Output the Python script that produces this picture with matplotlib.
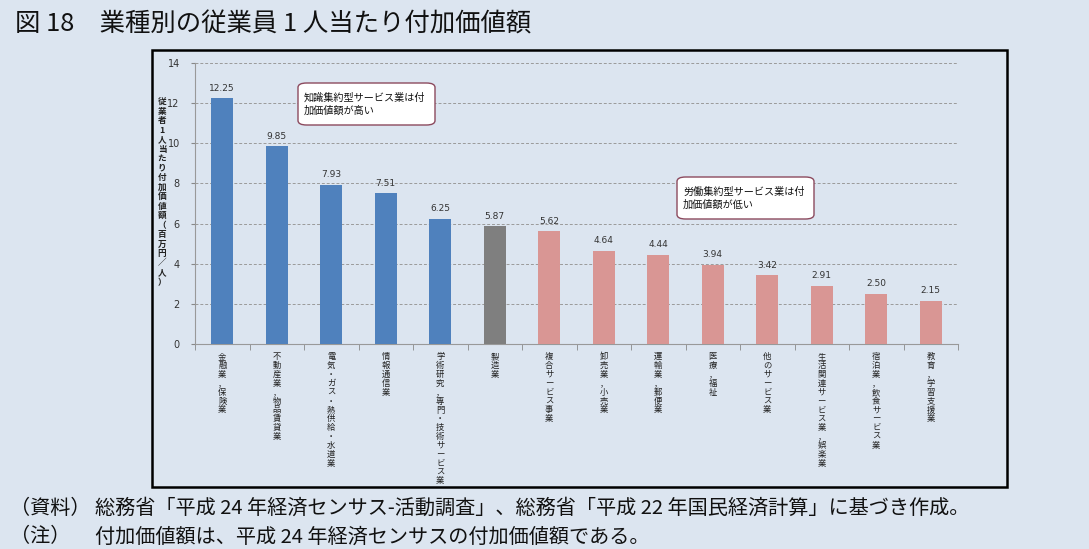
import matplotlib
matplotlib.use("Agg")
import matplotlib.pyplot as plt
from matplotlib.patches import Rectangle, FancyBboxPatch
import numpy as np

plt.rcParams['font.family'] = ['Noto Sans CJK JP', 'DejaVu Sans']

# data
industries = ["金融業，保険業", "不動産業，物品賃貸業", "電気・ガス・熱供給・水道業",
              "情報通信業", "学術研究，専門・技術サービス業", "製造業",
              "複合サービス事業", "卸売業，小売業", "運輸業，郵便業", "医療，福祉",
              "他のサービス業", "生活関連サービス業，娯楽業", "宿泊業，飲食サービス業",
              "教育，学習支援業"]
values = [12.25, 9.85, 7.93, 7.51, 6.25, 5.87, 5.62, 4.64, 4.44, 3.94, 3.42, 2.91, 2.50, 2.15]
groups = ["knowledge"] * 5 + ["manufacturing"] + ["labour"] * 8
yticks = [0, 2, 4, 6, 8, 10, 12, 14]

title = "図 18　業種別の従業員 1 人当たり付加価値額"
ylabel = "従業者1人当たり付加価値額（百万円／人）"
note_high = "知識集約型サービス業は付\n加価値額が高い"
note_low = "労働集約型サービス業は付\n加価値額が低い"
source_head = ["（資料）", "（注）"]
source_body = ["総務省「平成 24 年経済センサス-活動調査」、総務省「平成 22 年国民経済計算」に基づき作成。",
               "付加価値額は、平成 24 年経済センサスの付加価値額である。"]

colors = {"knowledge": "#4f81bd", "manufacturing": "#7f7f7f", "labour": "#d99694"}
bg = "#dce5f0"

fig = plt.figure(figsize=(10.89, 5.49), dpi=100, facecolor=bg)

# black frame round the chart
fig.patches.append(Rectangle((152 / 1089, 1 - 487 / 549), 855 / 1089, 437 / 549,
                             transform=fig.transFigure, fill=False,
                             edgecolor="black", linewidth=1.8))

ax = fig.add_axes([195 / 1089, 1 - 344 / 549, 763 / 1089, 281 / 549])
ax.set_facecolor("none")

x = np.arange(len(values))
bars = ax.bar(x, values, width=0.4, color=[colors[g] for g in groups], zorder=3)
for xi, v in zip(x, values):
    ax.annotate(f"{v:.2f}", (xi, v), xytext=(0, 4), textcoords="offset points",
                ha="center", va="bottom", fontsize=6.5, color="#333333", family="DejaVu Sans")

ax.set_xlim(-0.5, len(values) - 0.5)
ax.set_ylim(0, 14)
ax.set_yticks(yticks)
ax.set_yticklabels([str(t) for t in yticks], fontsize=7, color="#333333", family="DejaVu Sans")
ax.yaxis.grid(True, linestyle=(0, (3, 2)), color="#9a9a9a", linewidth=0.7, zorder=0)
ax.set_xticks([])
ax.set_xticks(np.arange(len(values) + 1) - 0.5, minor=True)
ax.tick_params(axis="x", which="minor", length=4, color="#888888", direction="out")
ax.tick_params(axis="y", length=3, color="#888888", pad=8)
for s in ["top", "right"]:
    ax.spines[s].set_visible(False)
ax.spines["left"].set_color("#999999")
ax.spines["bottom"].set_color("#999999")

# vertical category labels
for xi, lab in zip(x, industries):
    ax.annotate("\n".join(lab), (xi, 0), xytext=(0, -6), textcoords="offset points",
                ha="center", va="top", fontsize=6.0, linespacing=0.98, color="#222222")

# vertical y label
fig.text(162 / 1089, 1 - 192 / 549, "\n".join(ylabel), ha="center", va="center",
         fontsize=6.2, fontweight="bold", linespacing=1.07, color="#222222")

# call-out boxes
for (x0, y0, w, h), txt in [((298, 83, 137, 42), note_high), ((677, 177, 137, 42), note_low)]:
    fig.patches.append(FancyBboxPatch((x0 / 1089, 1 - (y0 + h) / 549), w / 1089, h / 549,
                                      boxstyle="round,pad=0,rounding_size=0.008",
                                      transform=fig.transFigure, facecolor="white",
                                      edgecolor="#8c4a5e", linewidth=1.0))
    fig.text((x0 + 6) / 1089, 1 - (y0 + h / 2) / 549, txt, ha="left", va="center",
             fontsize=7.3, linespacing=1.3, color="#111111")

fig.text(15 / 1089, 1 - 25 / 549, title, ha="left", va="center", fontsize=18.3, color="#111111")

for i, (head, body) in enumerate(zip(source_head, source_body)):
    yy = 1 - (508 + 29 * i) / 549
    fig.text(10 / 1089, yy, head, ha="left", va="center", fontsize=14.5, color="#111111")
    fig.text(95 / 1089, yy, body, ha="left", va="center", fontsize=14.5, color="#111111")

fig.savefig("out.png", dpi=100, facecolor=bg)
